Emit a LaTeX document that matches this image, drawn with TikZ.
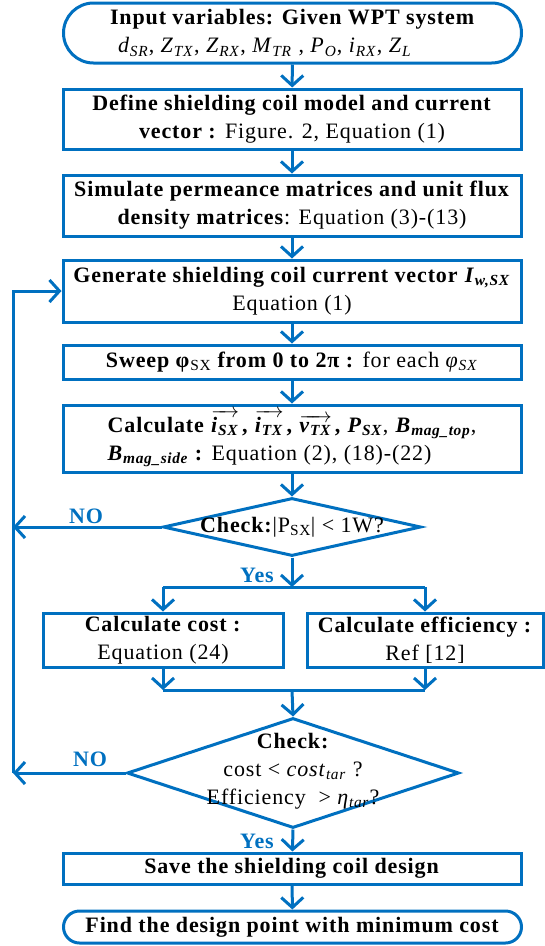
\documentclass[tikz,border=0pt]{standalone}
\usepackage{fontspec}
\setmainfont[LetterSpace=4]{Liberation Serif}
\usepackage{tikz}
\usetikzlibrary{shapes.geometric,arrows.meta}
\definecolor{flowblue}{RGB}{0,112,192}
\newcommand{\itsub}[2]{\textit{#1}\textsubscript{\textit{#2}}}
\newcommand{\bfsub}[2]{\textbf{\textit{#1}}\textsubscript{\textbf{\textit{#2}}}}
\newcommand{\vecsub}[2]{$\overrightarrow{\hbox{\bfsub{#1}{#2}}}$\kern3pt}
\tikzset{
    flow-box/.style = {draw=flowblue, line width=3pt, fill=white, rectangle, inner sep=0pt, minimum width=458pt, align=center},
    flow-check/.style = {draw=flowblue, line width=3pt, fill=white, diamond, inner sep=0pt},
    flow-arrow/.style = {draw=flowblue, line width=3pt, -{Straight Barb[length=10pt,width=22pt]}},
    flow-line/.style = {draw=flowblue, line width=3pt},
    flow-label/.style = {text=flowblue, font=\fontsize{22}{28}\selectfont\bfseries},
}

\begin{document}
\begin{tikzpicture}[x=1pt, y=-1pt, font=\fontsize{22}{28}\selectfont]
\useasboundingbox (0,0) rectangle (545,946);
\node[flow-box, rounded corners=30pt, minimum height=60pt, align=left] (input) at (292.5,33) {\textbf{Input variables: Given WPT system}\\\hspace{8pt}\itsub{d}{SR}, \itsub{Z}{TX}, \itsub{Z}{RX}, \itsub{M}{TR} , \itsub{P}{O}, \itsub{i}{RX}, \itsub{Z}{L}};
\node[flow-box, minimum height=60pt] (shield-model) at (292,119) {\textbf{Define shielding coil model and current}\\\textbf{vector :} Figure. 2, Equation (1)};
\node[flow-box, minimum height=61pt] (permeance) at (292,205.5) {\textbf{Simulate permeance matrices and unit flux}\\\textbf{density matrices}: Equation (3)-(13)};
\node[flow-box, minimum height=62pt] (current-vec) at (292,291) {\textbf{Generate shielding coil current vector} \bfsub{I}{w,SX}\\Equation (1)};
\node[flow-box, minimum height=34pt] (sweep) at (292,362) {\textbf{Sweep φ}\textsubscript{SX}\textbf{ from 0 to 2π :} for each \itsub{φ}{SX}};
\node[flow-box, minimum height=67pt, align=left] (calc) at (292,438.5) {\textbf{Calculate} \vecsub{i}{SX}\textbf{,} \vecsub{i}{TX}\textbf{,} \vecsub{v}{TX}\textbf{,} \bfsub{P}{SX}, \bfsub{B}{mag\_top},\\\bfsub{B}{mag\_side} \textbf{:} Equation (2), (18)-(22)};
\node[flow-check, minimum width=258pt, minimum height=58pt] (check-power) at (292,527) {};
\node (check-power-text) at (check-power) {\textbf{Check:}|P\textsubscript{SX}| < 1W?};
\coordinate (split) at (292,587);
\node[flow-box, minimum width=240pt, minimum height=54pt] (cost) at (163,640) {\textbf{Calculate cost :}\\Equation (24)};
\node[flow-box, minimum width=236pt, minimum height=54pt] (efficiency) at (425,640) {\textbf{Calculate efficiency :}\\Ref [12]};
\coordinate (merge) at (292,690);
\node[flow-check, minimum width=332pt, minimum height=110pt] (check-target) at (293,773) {};
\node[align=center] (check-target-text) at (293,771) {\textbf{Check:}\\cost < \itsub{cost}{tar} ?\\Efficiency \ > \itsub{η}{tar}?};
\node[flow-box, minimum height=31pt] (save) at (292,868.5) {\textbf{Save the shielding coil design}};
\node[flow-box, rounded corners=16pt, minimum height=32pt] (min-cost) at (292.5,927) {\textbf{Find the design point with minimum cost}};
\node[flow-label] (no-power) at (86,516) {NO};
\node[flow-label] (no-target) at (90,759) {NO};
\node[flow-label] (yes-power) at (257,575) {Yes};
\node[flow-label] (yes-target) at (257,841) {Yes};
\coordinate (loop-mid) at (13,527);
\coordinate (loop-low) at (13,773);

\draw[flow-arrow] (input) -- (shield-model);
\draw[flow-arrow] (shield-model) -- (permeance);
\draw[flow-arrow] (permeance) -- (current-vec);
\draw[flow-arrow] (current-vec) -- (sweep);
\draw[flow-arrow] (sweep) -- (calc);
\draw[flow-arrow] (calc) -- (check-power.north);
\draw[flow-arrow] (check-power.south) -- (split);
\draw[flow-line] (cost.north |- split) -- (efficiency.north |- split);
\draw[flow-arrow] (cost.north |- split) -- (cost.north);
\draw[flow-arrow] (efficiency.north |- split) -- (efficiency.north);
\draw[flow-arrow] (cost.south) -- (cost.south |- merge);
\draw[flow-arrow] (efficiency.south) -- (efficiency.south |- merge);
\draw[flow-line] (cost.south |- merge) -- (efficiency.south |- merge);
\draw[flow-arrow] (merge) -- (check-target.north);
\draw[flow-arrow] (check-target.south) -- (save);
\draw[flow-arrow] (save) -- (min-cost);
\draw[flow-arrow] (check-power.west) -- (loop-mid);
\draw[flow-arrow] (check-target.west) -- (loop-low);
\draw[flow-arrow] (loop-low) |- (current-vec.west);
\end{tikzpicture}
\end{document}
